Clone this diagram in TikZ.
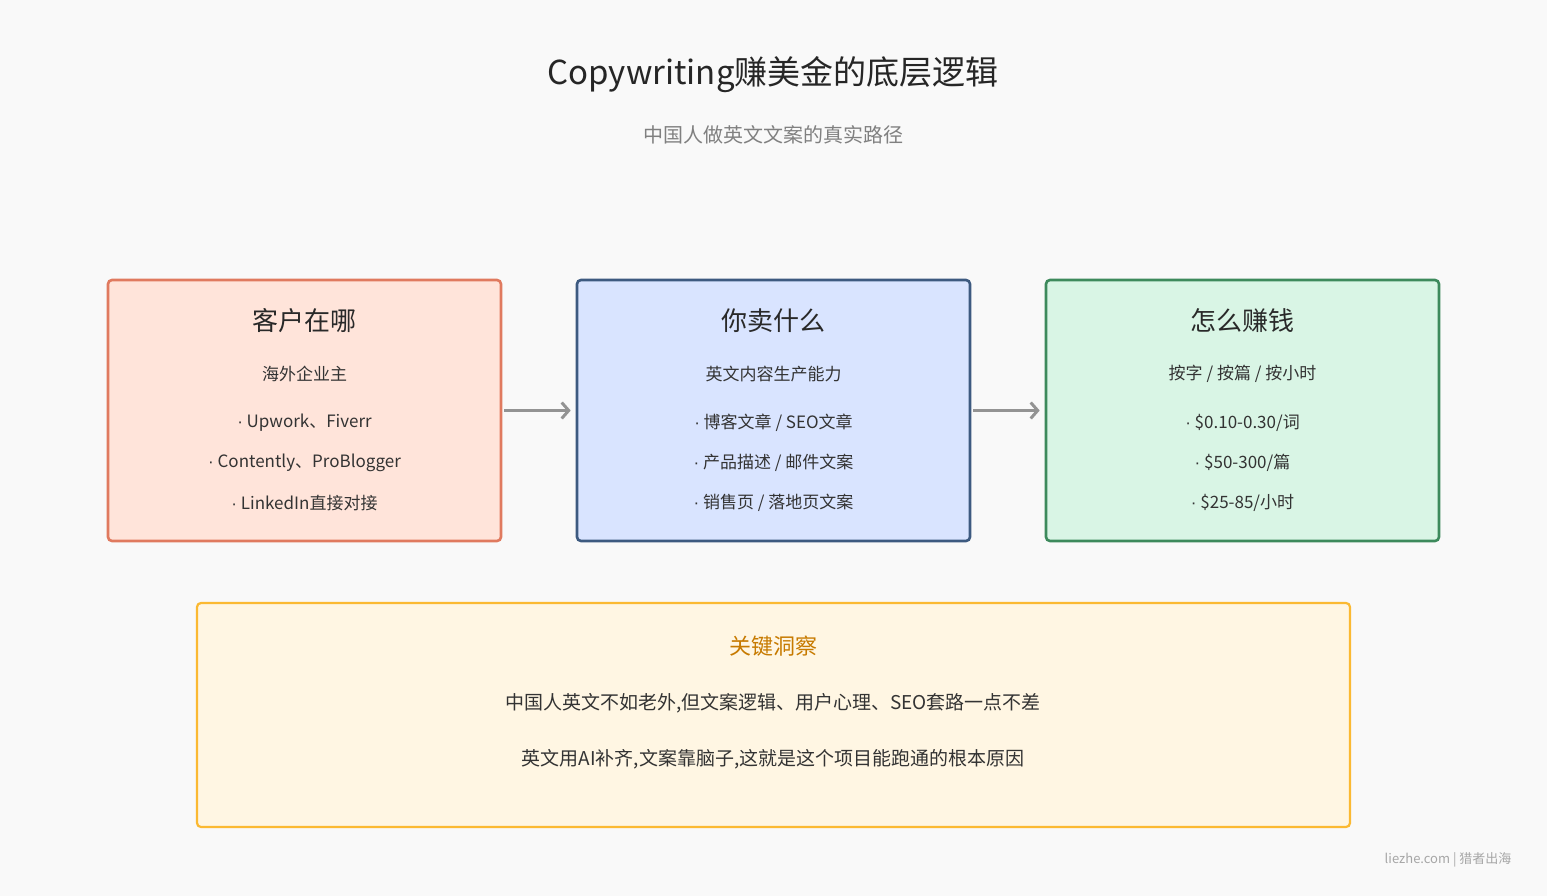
\documentclass[tikz,border=0pt]{standalone}
\usepackage{fontspec}
\setmainfont{Noto Sans CJK SC}
\newfontfamily\dotfont{Liberation Sans}
\newcommand{\pt}{{\dotfont ·} }
\usetikzlibrary{positioning}
\usetikzlibrary{arrows.meta}
\definecolor{bgc}{HTML}{F9F9F9}
\definecolor{redfill}{HTML}{FFE4DA}
\definecolor{redline}{HTML}{E07A5F}
\definecolor{bluefill}{HTML}{D9E4FF}
\definecolor{blueline}{HTML}{3D5A80}
\definecolor{greenfill}{HTML}{D9F5E5}
\definecolor{greenline}{HTML}{3D8A5C}
\definecolor{yelfill}{HTML}{FFF6E3}
\definecolor{yelline}{HTML}{FBB932}
\definecolor{yeltext}{HTML}{C77A00}
\definecolor{txt}{HTML}{333333}
\tikzset{
  card/.style={draw=#1, line width=2.6pt, rounded corners=4pt, minimum width=393pt, minimum height=261pt},
  head/.style={font=\fontsize{26}{30}\selectfont, text=txt!80!black},
  sub/.style={font=\fontsize{17}{20}\selectfont, text=txt},
  item/.style={font=\fontsize{17}{20}\selectfont, text=txt},
  flow/.style={-{Straight Barb[length=7pt,width=16pt]}, line width=3pt, draw=gray!85},
}
\begin{document}
\begin{tikzpicture}[x=1pt,y=-1pt]
\fill[bgc] (0,0) rectangle (1547,896);
% title
\node[font=\fontsize{33}{38}\selectfont, text=black!85] (title) at (773,75) {Copywriting赚美金的底层逻辑};
\node[font=\fontsize{20}{24}\selectfont, text=gray] (subtitle) at (773,135) {中国人做英文文案的真实路径};
% cards
\node[card=redline, fill=redfill] (where) at (304.5,410.5) {};
\node[card=blueline, fill=bluefill] (what) at (773.5,410.5) {};
\node[card=greenline, fill=greenfill] (earn) at (1242.5,410.5) {};
\foreach \c/\x/\h/\s/\a/\b/\d in {
  where/304.5/{客户在哪}/{海外企业主}/{\pt Upwork、Fiverr}/{\pt Contently、ProBlogger}/{\pt LinkedIn直接对接},
  what/773.5/{你卖什么}/{英文内容生产能力}/{\pt 博客文章 / SEO文章}/{\pt 产品描述 / 邮件文案}/{\pt 销售页 / 落地页文案},
  earn/1242.5/{怎么赚钱}/{按字 / 按篇 / 按小时}/{\pt \$0.10-0.30/词}/{\pt \$50-300/篇}/{\pt \$25-85/小时}} {
  \node[head] (\c-head) at (\x,321) {\h};
  \node[sub] (\c-sub) at (\x,374) {\s};
  \node[item] (\c-a) at (\x,423) {\a};
  \node[item] (\c-b) at (\x,463) {\b};
  \node[item] (\c-c) at (\x,503) {\d};
}
\draw[flow] (where.east) ++(2,0) -- ([xshift=-5pt]what.west);
\draw[flow] (what.east) ++(2,0) -- ([xshift=-5pt]earn.west);
% insight
\node[draw=yelline, fill=yelfill, line width=2.2pt, rounded corners=4pt, minimum width=1153pt, minimum height=224pt] (insight) at (773.5,715) {};
\node[font=\fontsize{22}{26}\selectfont, text=yeltext] (insight-head) at (773,646) {关键洞察};
\node[font=\fontsize{19}{22}\selectfont, text=txt] (insight-a) at (773,703) {中国人英文不如老外,但文案逻辑、用户心理、SEO套路一点不差};
\node[font=\fontsize{19}{22}\selectfont, text=txt] (insight-b) at (773,759) {英文用AI补齐,文案靠脑子,这就是这个项目能跑通的根本原因};
% footer
\node[font=\fontsize{13}{16}\selectfont, text=gray!70, anchor=east] (footer) at (1515,860) {liezhe.com | 猎者出海};
\end{tikzpicture}
\end{document}
